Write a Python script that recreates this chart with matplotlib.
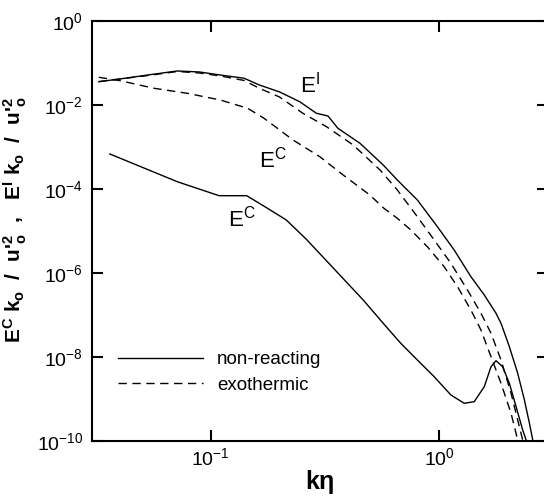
import math
import matplotlib
matplotlib.use('Agg')
from matplotlib import pyplot as plt
from matplotlib.ticker import FixedLocator, FuncFormatter, NullLocator

plt.rcParams['font.family'] = ['Liberation Sans', 'DejaVu Sans']
plt.rcParams['mathtext.fontset'] = 'custom'
plt.rcParams['mathtext.rm'] = 'Liberation Sans'
plt.rcParams['mathtext.it'] = 'Liberation Sans'
plt.rcParams['mathtext.bf'] = 'Liberation Sans:bold'
plt.rcParams['mathtext.default'] = 'regular'

# E^I spectrum, non-reacting
ki_nr = [0.0323, 0.040, 0.0553, 0.0713, 0.089, 0.110, 0.1398, 0.163, 0.200, 0.245,
         0.290, 0.326, 0.360, 0.450, 0.569, 0.656, 0.803, 0.983, 1.164, 1.378,
         1.577, 1.775, 1.867, 2.031, 2.209, 2.364, 2.487, 2.571, 2.62]
ei_nr = [3.69e-2, 4.28e-2, 5.5e-2, 6.63e-2, 6.28e-2, 5.32e-2, 4.45e-2, 3.08e-2, 2.1e-2, 1.23e-2,
         6.52e-3, 5.62e-3, 2.87e-3, 1.26e-3, 3.83e-4, 1.68e-4, 5.62e-5, 1.30e-5, 3.63e-6, 8.39e-7,
         3.08e-7, 1.13e-7, 6.52e-8, 1.81e-8, 4.21e-9, 9.73e-10, 2.71e-10, 1.09e-10, 5e-11]

# E^I spectrum, exothermic
ki_ex = [0.0323, 0.040, 0.0553, 0.0713, 0.089, 0.110, 0.1398, 0.163, 0.200, 0.253,
         0.321, 0.420, 0.551, 0.656, 0.803, 0.951, 1.126, 1.331, 1.525, 1.688,
         1.867, 2.066, 2.209, 2.323, 2.37]
ei_ex = [3.69e-2, 4.28e-2, 5.32e-2, 6.45e-2, 5.94e-2, 5.04e-2, 3.94e-2, 2.57e-2, 1.59e-2, 6.52e-3,
         3.13e-3, 1.15e-3, 2.91e-4, 9.73e-5, 2.25e-5, 6.28e-6, 1.75e-6, 4.05e-7, 1.13e-7, 3.77e-8,
         8.71e-9, 1.41e-9, 3.25e-10, 1.09e-10, 5e-11]

# E^C spectrum, exothermic
kc_ex = [0.0323, 0.0401, 0.0563, 0.0788, 0.110, 0.145, 0.171, 0.229, 0.300, 0.380,
         0.497, 0.573, 0.656, 0.751, 0.888, 1.052, 1.204, 1.378, 1.525, 1.688,
         1.867, 2.066, 2.209, 2.25]
ec_ex = [4.69e-2, 3.89e-2, 2.57e-2, 1.95e-2, 1.35e-2, 8.57e-3, 4.95e-3, 1.51e-3, 6.04e-4, 2.21e-4,
         7.4e-5, 3.57e-5, 2.06e-5, 1.09e-5, 4.35e-6, 1.45e-6, 4.85e-7, 1.35e-7, 4.52e-8, 1.04e-8,
         2.43e-9, 4.69e-10, 1.09e-10, 5e-11]

# E^C spectrum, non-reacting
kc_nr = [0.0361, 0.0713, 0.1087, 0.1436, 0.177, 0.214, 0.262, 0.465, 0.569,
         0.679, 0.803, 0.951, 1.126, 1.288, 1.425, 1.577, 1.688, 1.775, 1.897,
         2.031, 2.174, 2.323, 2.405, 2.44]
ec_nr = [7.0e-4, 1.53e-4, 7.11e-5, 7.11e-5, 3.57e-5, 1.88e-5, 6.52e-6, 2.34e-7, 6.52e-8,
         2.18e-8, 8.71e-9, 3.49e-9, 1.28e-9, 8.12e-10, 8.87e-10, 2.02e-9, 6.04e-9, 8.39e-9, 6.04e-9,
         2.43e-9, 6.74e-10, 1.88e-10, 1.09e-10, 5e-11]

x_ticks = [0.1, 1.0]
y_ticks = [1e-10, 1e-8, 1e-6, 1e-4, 1e-2, 1e0]

fig = plt.figure(figsize=(5.44, 4.96), dpi=100)
ax = fig.add_axes([0.1682, 0.1099, 0.8392, 0.8468])

dash = (0, (6, 4))
ax.plot(ki_nr, ei_nr, color='black', lw=1.0, label='non-reacting')
ax.plot(kc_nr, ec_nr, color='black', lw=1.0)
ax.plot(ki_ex, ei_ex, color='black', lw=1.0, linestyle=dash, label='exothermic')
ax.plot(kc_ex, ec_ex, color='black', lw=1.0, linestyle=dash)

ax.set_xscale('log')
ax.set_yscale('log')
ax.set_xlim(0.03, 3.0)
ax.set_ylim(1e-10, 1e0)

ax.xaxis.set_major_locator(FixedLocator(x_ticks))
ax.yaxis.set_major_locator(FixedLocator(y_ticks))
ax.xaxis.set_minor_locator(NullLocator())
ax.yaxis.set_minor_locator(NullLocator())


def dec_fmt(v, pos):
    e = int(round(math.log10(v)))
    return r'$10^{%d}$' % e


ax.xaxis.set_major_formatter(FuncFormatter(dec_fmt))
ax.yaxis.set_major_formatter(FuncFormatter(dec_fmt))
ax.tick_params(axis='both', which='major', direction='in', length=8, width=1.5,
               labelsize=14, top=True, right=True)
ax.tick_params(axis='y', pad=6)
ax.tick_params(axis='x', pad=4)
for s in ax.spines.values():
    s.set_linewidth(1.5)

ax.set_xlabel(r'k$\eta$', fontsize=18, fontweight='bold', va='top')
ax.xaxis.set_label_coords(0.5, -0.062)
ax.set_ylabel(r"E$^{C}$ k$_{o}$  /  u$'^{2}_{o}$  ,   E$^{I}$ k$_{o}$  /  u$'^{2}_{o}$",
              fontsize=15, fontweight='bold')
ax.yaxis.set_label_coords(-0.137, 0.527)

# curve labels
ax.text(0.245, 0.0199, r'E$^{I}$', fontsize=16)
ax.text(0.162, 3.4e-4, r'E$^{C}$', fontsize=16)
ax.text(0.119, 1.28e-5, r'E$^{C}$', fontsize=16)

leg = ax.legend(loc='lower left', bbox_to_anchor=(0.022, 0.073), frameon=False,
                fontsize=13.5, handlelength=4.5, handletextpad=0.75, labelspacing=0.45)

fig.savefig('out.png', dpi=100)
